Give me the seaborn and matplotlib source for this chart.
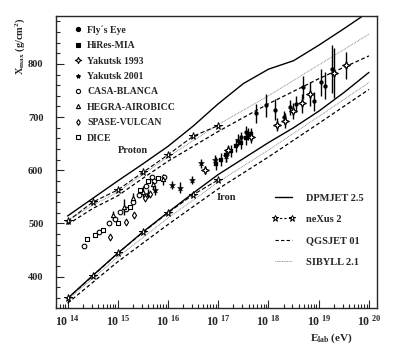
import numpy as np
import matplotlib
matplotlib.use('Agg')
import matplotlib.pyplot as plt
import seaborn as sns
from matplotlib.lines import Line2D
from matplotlib.path import Path
from matplotlib.ticker import FixedLocator, LogLocator, NullFormatter, MultipleLocator

# model curves, x = log10(E/eV), y = Xmax (g/cm2)
dpm_p_E = [14, 14.5, 15, 15.5, 16, 16.5, 17, 17.5, 18, 18.5, 19, 19.5, 20]
dpm_p_X = [514, 547, 580, 612, 645, 683, 725, 763, 790, 806, 835, 866, 898]
nex_p_E = [14, 14.5, 15, 15.5, 16, 16.5, 17]
nex_p_X = [504, 540, 563, 596, 629, 664, 684]
qgs_p_E = [14, 14.5, 15, 15.5, 16, 17, 18, 19, 20]
qgs_p_X = [498, 528, 552, 585, 617, 673, 725, 772, 815]
sib_p_E = [14, 14.5, 15, 15.5, 16, 17, 18, 19, 20]
sib_p_X = [506, 534, 559, 592, 625, 686, 740, 798, 856]

dpm_fe_E = [14, 14.5, 15, 15.5, 16, 16.5, 17, 17.5, 18, 18.5, 19, 19.5, 20]
dpm_fe_X = [359, 402, 444, 484, 521, 557, 592, 622, 652, 680, 711, 746, 784]
nex_fe_E = [14, 14.5, 15, 15.5, 16, 16.5, 17]
nex_fe_X = [359, 401, 444, 483, 520, 554, 582]
sib_fe_E = [14, 15, 16, 17, 18, 19, 20]
sib_fe_X = [356, 437, 510, 578, 638, 701, 765]
qgs_fe_E = [14, 15, 16, 17, 18, 19, 20]
qgs_fe_X = [350, 428, 498, 565, 625, 688, 752]

# measurements
fly_E = [17.45, 17.55, 17.75, 17.96, 18.12, 18.3, 18.42, 18.55, 18.69, 18.9, 19.05, 19.12, 19.27]
fly_X = [662, 672, 707, 722, 714, 700, 718, 725, 756, 730, 765, 759, 790]
fly_err = [10, 12, 18, 22, 20, 12, 15, 15, 22, 18, 25, 25, 45]

hires_E = [16.95, 17.05, 17.15, 17.25, 17.35, 17.45, 17.55, 17.65]
hires_X = [612, 620, 628, 636, 646, 652, 660, 668]
hires_err = [12, 12, 12, 12, 12, 12, 12, 12]

yak93_E = [16.73, 17.19, 17.66, 18.16, 18.32, 18.49, 18.67, 18.82, 19.3, 19.55]
yak93_X = [600, 638, 663, 686, 693, 712, 726, 743, 782, 797]
yak93_err = [8, 10, 12, 12, 14, 15, 18, 22, 47, 25]

yak01_E = [15.6, 15.75, 16.07, 16.23, 16.48, 16.66, 16.93, 17.16, 17.39, 17.6]
yak01_X = [556, 562, 572, 567, 582, 613, 619, 626, 657, 668]
yak01_err = [8, 8, 8, 10, 8, 8, 10, 10, 12, 12]

casa_E = [14.33, 14.62, 14.82, 14.94, 15.04, 15.16, 15.30, 15.43, 15.57, 15.69, 15.73, 15.91]
casa_X = [458, 483, 501, 508, 522, 527, 541, 554, 570, 588, 579, 588]

hegra_E = [14.9, 15.12, 15.3, 15.5, 15.7, 15.9]
hegra_X = [515, 531, 548, 560, 575, 583]
hegra_err = [8, 15, 10, 10, 10, 10]

spase_E = [14.84, 15.16, 15.32, 15.55, 15.65]
spase_X = [475, 503, 516, 548, 555]

dice_E = [14.39, 14.54, 14.7, 15.0, 15.25, 15.45, 15.6, 15.8]
dice_X = [470, 478, 488, 500, 530, 562, 580, 585]

sns.set_style('ticks')
plt.rcParams['font.family'] = ['Liberation Serif', 'DejaVu Serif']
plt.rcParams['font.weight'] = 'bold'
plt.rcParams['mathtext.fontset'] = 'custom'
plt.rcParams['mathtext.rm'] = 'Liberation Serif:bold'
plt.rcParams['mathtext.it'] = 'Liberation Serif:bold'
plt.rcParams['mathtext.bf'] = 'Liberation Serif:bold'

fig = plt.figure(figsize=(4.09, 3.47), dpi=100)
ax = fig.add_axes([56 / 409, 39 / 347, 321 / 409, 292 / 347])

def e(vals):
    return 10 ** np.array(vals, dtype=float)

# open 4-pointed star for Yakutsk 1993
verts = [(0, 1), (0.3, 0.3), (1, 0), (0.3, -0.3), (0, -1), (-0.3, -0.3), (-1, 0), (-0.3, 0.3), (0, 1)]
star4 = Path(verts, [Path.MOVETO] + [Path.LINETO] * 7 + [Path.CLOSEPOLY])

models = [
    (dpm_p_E, dpm_p_X, dict(color='k', lw=1.0, ls='-')),
    (dpm_fe_E, dpm_fe_X, dict(color='k', lw=1.0, ls='-')),
    (qgs_p_E, qgs_p_X, dict(color='k', lw=0.9, dashes=(3, 2))),
    (qgs_fe_E, qgs_fe_X, dict(color='k', lw=0.9, dashes=(3, 2))),
    (sib_p_E, sib_p_X, dict(color='0.45', lw=0.6, dashes=(1, 1))),
    (sib_fe_E, sib_fe_X, dict(color='0.45', lw=0.6, dashes=(1, 1))),
]
for xs, ys, kw in models:
    sns.lineplot(x=e(xs), y=ys, ax=ax, estimator=None, **kw)

for xs, ys in [(nex_p_E, nex_p_X), (nex_fe_E, nex_fe_X)]:
    sns.lineplot(x=e(xs), y=ys, ax=ax, estimator=None, color='k', lw=0.8, dashes=(4, 2),
                 marker='*', markersize=5.5, markerfacecolor='white', markeredgecolor='k',
                 markeredgewidth=0.7)

# error bars
for xs, ys, er in [(fly_E, fly_X, fly_err), (hires_E, hires_X, hires_err),
                   (yak93_E, yak93_X, yak93_err), (yak01_E, yak01_X, yak01_err),
                   (hegra_E, hegra_X, hegra_err)]:
    ax.errorbar(e(xs), ys, yerr=er, fmt='none', ecolor='k', elinewidth=1.0, capsize=0)

series = [
    ("Fly´s Eye", fly_E, fly_X, dict(marker='o', s=8, color='k', edgecolor='k')),
    ("HiRes-MIA", hires_E, hires_X, dict(marker='s', s=7, color='k', edgecolor='k')),
    ("Yakutsk 1993", yak93_E, yak93_X, dict(marker=star4, s=30, color='white', edgecolor='k', linewidth=0.9)),
    ("Yakutsk 2001", yak01_E, yak01_X, dict(marker='*', s=20, color='k', edgecolor='k')),
    ("CASA-BLANCA", casa_E, casa_X, dict(marker='o', s=11, color='white', edgecolor='k', linewidth=0.8)),
    ("HEGRA-AIROBICC", hegra_E, hegra_X, dict(marker='^', s=9, color='white', edgecolor='k', linewidth=0.8)),
    ("SPASE-VULCAN", spase_E, spase_X, dict(marker='d', s=12, color='white', edgecolor='k', linewidth=0.8)),
    ("DICE", dice_E, dice_X, dict(marker='s', s=9, color='white', edgecolor='k', linewidth=0.8)),
]
data_handles = []
for name, xs, ys, kw in series:
    sns.scatterplot(x=e(xs), y=ys, ax=ax, zorder=3, **kw)
    mk = kw['marker']
    data_handles.append(Line2D([], [], ls='none', marker=mk, markersize=3 if mk != star4 else 4.5,
                               markerfacecolor=kw['color'], markeredgecolor='k',
                               markeredgewidth=0.8, label=name))

ax.set_xscale('log')
ax.set_xlim(10 ** 13.77, 10 ** 20.16)
ax.set_ylim(341, 890)
ax.xaxis.set_major_locator(FixedLocator(e(range(14, 21))))
ax.xaxis.set_minor_locator(LogLocator(base=10, subs=np.arange(2, 10), numticks=20))
ax.xaxis.set_minor_formatter(NullFormatter())
ax.set_xticklabels([r'$10^{\ %d}$' % k for k in range(14, 21)])
ax.yaxis.set_major_locator(FixedLocator([400, 500, 600, 700, 800]))
ax.yaxis.set_minor_locator(MultipleLocator(20))
ax.tick_params(which='both', direction='in', top=False, right=False, labelsize=7.5, width=0.8)
ax.tick_params(axis='x', labelsize=8.5)
ax.tick_params(which='major', length=6)
ax.tick_params(which='minor', length=3)
ax.tick_params(axis='x', pad=4)
ax.tick_params(axis='y', pad=9)
for lab in ax.get_yticklabels():
    lab.set_fontweight('bold')
for sp in ax.spines.values():
    sp.set_visible(True)
    sp.set_linewidth(1.0)
ax.set_xlabel('')
ax.set_ylabel('')

leg1 = ax.legend(handles=data_handles, loc='upper left', bbox_to_anchor=(0.04, 0.985),
                 frameon=False, fontsize=7, handlelength=0.8, handletextpad=0.6,
                 labelspacing=0.66, borderpad=0)
ax.add_artist(leg1)

model_handles = [
    Line2D([], [], color='k', lw=1.0, label='DPMJET 2.5'),
    Line2D([], [], color='k', lw=0.8, dashes=(2, 2), marker='*', markersize=5,
           markerfacecolor='white', markeredgecolor='k', markeredgewidth=0.7, label='neXus 2'),
    Line2D([], [], color='k', lw=0.8, dashes=(3, 2), label='QGSJET 01'),
    Line2D([], [], color='0.45', lw=0.6, dashes=(1, 1), label='SIBYLL 2.1'),
]
ax.legend(handles=model_handles, loc='upper left', bbox_to_anchor=(0.655, 0.41),
          frameon=False, fontsize=7.5, handlelength=2.3, handletextpad=1.0,
          labelspacing=1.15, numpoints=2, borderpad=0)

ax.text(10 ** 15.3, 638, 'Proton', fontsize=7.5, fontweight='bold', ha='center', va='center')
ax.text(10 ** 17.17, 548, 'Iron', fontsize=7.5, fontweight='bold', ha='center', va='center')

fig.text(20 / 409, 1 - 46 / 347, r'$\mathbf{X_{max}}$ (g/cm$^{2}$)', rotation=90,
         ha='center', va='center', fontsize=7.5, fontweight='bold')
fig.text(331 / 409, 1 - 338 / 347, r'$\mathbf{E_{lab}}$ (eV)', ha='center', va='center',
         fontsize=8, fontweight='bold')

fig.savefig('out.png', dpi=100)
